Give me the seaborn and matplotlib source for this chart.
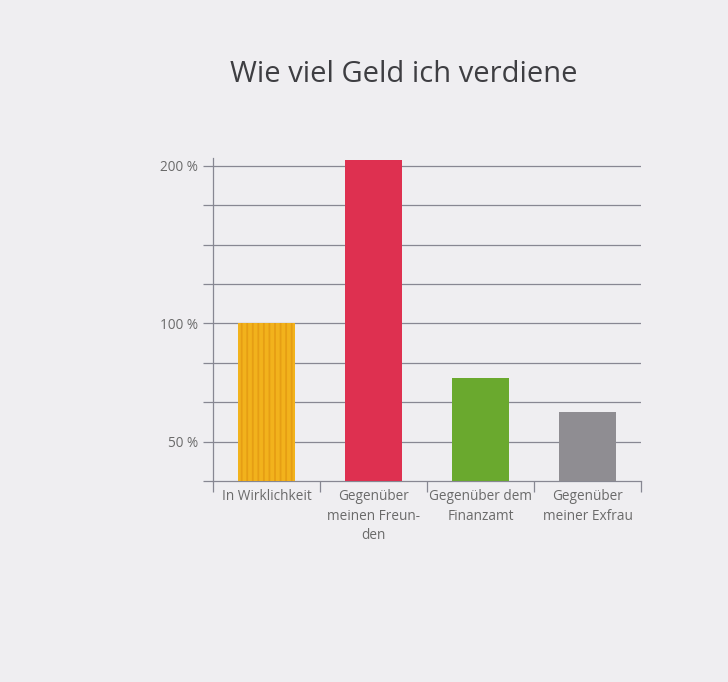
import seaborn as sns
import matplotlib.pyplot as plt
import numpy as np
import pandas as pd

# data
categories = ["In Wirklichkeit", "Gegenüber\nmeinen Freun-\nden",
              "Gegenüber dem\nFinanzamt", "Gegenüber\nmeiner Exfrau"]
values = [100, 204, 77, 62.5]
colors = ["#f2b21c", "#de3050", "#6aa92e", "#8f8d92"]

grid_values = [50, 200 / 3, 250 / 3, 100, 125, 150, 175, 200]
tick_labels = {50: "50 %", 100: "100 %", 200: "200 %"}

# the printed axis is not linear: 50->100 gets 3 rows, 100->200 gets 4
scale_vals = [100 / 3, 50, 100, 200, 300]
scale_pos = [0, 1, 4, 8, 12]

def fwd(v):
    return np.interp(v, scale_vals, scale_pos)

def inv(p):
    return np.interp(p, scale_pos, scale_vals)

bg = "#efeef1"
sns.set_theme(style="white")
plt.rcParams["font.family"] = ["Open Sans", "DejaVu Sans"]
plt.rcParams["hatch.linewidth"] = 1.3

fig = plt.figure(figsize=(7.28, 6.82), dpi=100, facecolor=bg)
ax = fig.add_axes([213 / 728, 1 - 481 / 682, 428 / 728, 323 / 682])
ax.set_facecolor(bg)

df = pd.DataFrame({"cat": categories, "val": values})
sns.barplot(data=df, x="cat", y="val", hue="cat", palette=colors,
            width=0.53, saturation=1, legend=False, ax=ax, zorder=3,
            linewidth=0, edgecolor="none")

# wavy texture on the yellow bar
bar0 = ax.patches[0]
bar0.set_hatch("|||")
bar0.set_edgecolor("#e69e14")
bar0.set_linewidth(0)

ax.set_yscale("function", functions=(fwd, inv))
ax.set_ylim(100 / 3, 205)
ax.set_xlim(-0.5, 3.5)

line_c = "#878792"
yt = [100 / 3] + grid_values
ax.set_yticks(yt)
ax.set_yticklabels([""] + [tick_labels.get(round(v), "") for v in grid_values],
                   fontsize=9.8, color="#6a6a6a")
ax.yaxis.set_minor_locator(plt.NullLocator())
ax.tick_params(axis="y", length=7, width=0.9, color=line_c, pad=4, left=True)
for v in grid_values:
    ax.axhline(v, color=line_c, lw=0.9, zorder=1)

ax.set_xticks(range(4))
ax.set_xticklabels(categories, fontsize=9.8, color="#6a6a6a", linespacing=1.4)
ax.set_xticks([-0.5, 0.5, 1.5, 2.5, 3.5], minor=True)
ax.tick_params(axis="x", which="major", length=0, pad=6)
ax.tick_params(axis="x", which="minor", length=8, width=0.9, color=line_c, bottom=True)

for s in ["top", "right"]:
    ax.spines[s].set_visible(False)
for s in ["left", "bottom"]:
    ax.spines[s].set_color(line_c)
    ax.spines[s].set_linewidth(0.9)

ax.set_xlabel("")
ax.set_ylabel("")

fig.text(404 / 728, 1 - 74 / 682, "Wie viel Geld ich verdiene",
         ha="center", va="center", fontsize=21, color="#3e3e42")

fig.savefig("out.png", dpi=100, facecolor=bg)
